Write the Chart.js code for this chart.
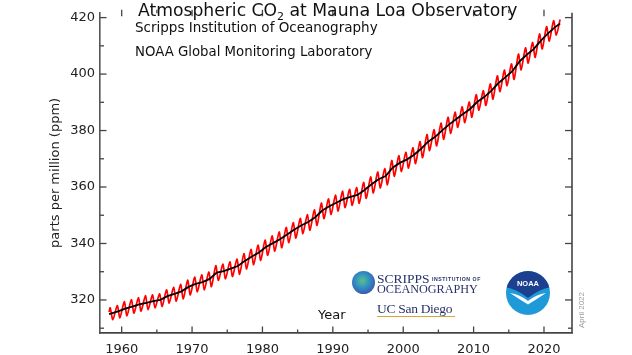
<!DOCTYPE html>
<html><head><meta charset="utf-8">
<script src="https://cdn.jsdelivr.net/npm/chart.js@4.4.1/dist/chart.umd.min.js"></script>
<style>
html,body{margin:0;padding:0;background:#fff;overflow:hidden}
#wrap{position:relative;width:632px;height:355px}
canvas{display:block}
.t{position:absolute;white-space:nowrap;color:#111;font-family:"DejaVu Sans",sans-serif}
.serif{position:absolute;white-space:nowrap;font-family:"Liberation Serif",serif;color:#27336a}
</style></head><body><div id="wrap">
<canvas id="c" width="632" height="355"></canvas>
<div class="t" style="left:138px;top:2px;font-size:17.2px;line-height:17.2px">Atmospheric CO<sub style="font-size:11px;vertical-align:-4px;line-height:0">2</sub> at Mauna Loa Observatory</div>
<div class="t" style="left:135px;top:20.5px;font-size:13.5px;line-height:13.5px">Scripps Institution of Oceanography</div>
<div class="t" style="left:135px;top:44.5px;font-size:13.3px;line-height:13.3px">NOAA Global Monitoring Laboratory</div>
<div class="t" style="left:318px;top:308px;font-size:13px;line-height:13px">Year</div>
<div class="t" style="left:561.5px;top:305px;width:40px;text-align:center;font-family:'Liberation Sans',sans-serif;font-size:8px;line-height:10px;color:#9a9a9a;transform:rotate(-90deg)">April 2022</div>
<div style="position:absolute;left:352px;top:271px;width:23px;height:23px;border-radius:50%;background:radial-gradient(circle at 45% 42%,#5cc08a 0%,#2f8fc4 40%,#3b5fb0 70%,#6a3f9c 100%)"></div>
<div class="serif" style="left:377px;top:271.5px;font-size:13.5px;line-height:13.5px">SCRIPPS</div>
<div class="serif" style="left:432px;top:276.5px;font-size:5.2px;line-height:5.2px;font-family:'Liberation Sans',sans-serif;font-weight:bold;letter-spacing:0.55px">INSTITUTION OF</div>
<div class="serif" style="left:377px;top:283px;font-size:12.2px;line-height:12.2px">OCEANOGRAPHY</div>
<div class="serif" style="left:377px;top:302px;font-size:13.5px;line-height:13.5px;letter-spacing:-0.3px">UC San Diego</div>
<div style="position:absolute;left:377px;top:316px;width:78px;height:1px;background:#d6a734"></div>
<svg style="position:absolute;left:505px;top:270px" width="46" height="46" viewBox="0 0 46 46">
<defs><clipPath id="cc"><circle cx="23" cy="23" r="22"/></clipPath></defs>
<circle cx="23" cy="23" r="22" fill="#1f9ad8"/>
<path clip-path="url(#cc)" d="M0,0 H46 V17 Q34,19 23,28 Q12,19 0,17 Z" fill="#1c3f8f"/>
<path d="M5,23 Q15,24.5 23,31 Q31,24.5 41,23 Q32,29 23,34.5 Q14,29 5,23 Z" fill="#fff"/>
<text x="23" y="15.5" text-anchor="middle" font-family="Liberation Sans, sans-serif" font-weight="bold" font-size="7.5" fill="#fff">NOAA</text>
</svg>
</div>
<script>
const years=[1958,1959,1960,1961,1962,1963,1964,1965,1966,1967,1968,1969,1970,1971,1972,1973,1974,1975,1976,1977,1978,1979,1980,1981,1982,1983,1984,1985,1986,1987,1988,1989,1990,1991,1992,1993,1994,1995,1996,1997,1998,1999,2000,2001,2002,2003,2004,2005,2006,2007,2008,2009,2010,2011,2012,2013,2014,2015,2016,2017,2018,2019,2020,2021];
const annualMean=[315.2,315.98,316.91,317.64,318.45,318.99,319.62,320.04,321.37,322.18,323.05,324.62,325.68,326.32,327.46,329.68,330.19,331.13,332.03,333.84,335.41,336.84,338.76,340.12,341.48,343.15,344.87,346.35,347.61,349.31,351.69,353.20,354.45,355.70,356.54,357.21,358.96,360.97,362.74,363.88,366.84,368.54,369.71,371.32,373.45,375.98,377.70,379.98,382.09,384.02,385.83,387.64,390.10,391.85,394.06,396.74,398.81,401.01,404.41,406.76,408.72,411.66,414.24,416.45];
const mayPeak=[317.2,318.0,319.4,320.1,320.8,321.5,321.8,322.2,323.6,324.5,325.5,327.0,328.1,328.9,329.9,332.2,332.7,333.5,334.5,336.4,337.9,339.4,341.2,342.7,344.1,345.7,347.4,348.9,350.2,351.9,354.3,355.8,357.1,358.5,359.2,359.8,361.6,363.6,365.3,366.5,369.4,371.1,372.3,373.9,376.1,378.6,380.3,382.6,384.7,386.5,388.4,390.1,392.7,394.1,396.5,399.4,401.4,403.6,407.1,409.3,411.2,414.2,416.8,418.9];
const autumnLow=[313.0,313.7,314.4,315.3,316.0,316.5,317.2,317.7,318.9,319.6,320.4,321.8,322.9,323.6,324.7,326.9,327.5,328.3,329.1,331.0,332.5,334.0,335.8,337.3,338.5,340.3,341.9,343.5,344.7,346.4,348.8,350.3,351.5,352.7,353.5,354.2,356.0,357.9,359.7,360.8,363.8,365.5,366.7,368.3,370.4,372.9,374.6,376.9,379.0,381.1,382.8,384.7,387.2,388.9,391.1,393.8,395.9,398.1,401.5,403.9,405.9,408.9,411.7,413.8];
const firstMonth={date:1958.21,co2:315.7};
const lastMonth={date:2022.29,co2:419.3};
const trendStart={date:1958.21,co2:315.0};
const trendEnd={date:2022.29,co2:417.9};
const xTickLabels=[1960,1970,1980,1990,2000,2010,2020];
const xMinorTicks=[1965,1975,1985,1995,2005,2015];
const yTickLabels=[320,340,360,380,400,420];
const yMinorTicks=[310,330,350,370,390,410];

const redPoints=[{x:firstMonth.date,y:firstMonth.co2}];
years.forEach((yr,i)=>{redPoints.push({x:yr+0.37,y:mayPeak[i]});redPoints.push({x:yr+0.75,y:autumnLow[i]});});
redPoints.push({x:lastMonth.date,y:lastMonth.co2});
const blackPoints=[{x:trendStart.date,y:trendStart.co2}];
years.forEach((yr,i)=>{if(i>0)blackPoints.push({x:yr+0.5,y:annualMean[i]});});
blackPoints.push({x:trendEnd.date,y:trendEnd.co2});

const frame={id:'frame',afterDatasetsDraw(c){
  const {ctx,chartArea:a,scales:{x,y}}=c;
  ctx.save();ctx.strokeStyle='#444';
  const ln=(x1,y1,x2,y2)=>{ctx.beginPath();ctx.moveTo(x1,y1);ctx.lineTo(x2,y2);ctx.stroke();};
  ctx.lineWidth=1.6;ln(a.right,a.top,a.right,a.bottom);
  ctx.lineWidth=1.3;
  const top=a.top-3;
  xTickLabels.forEach(v=>{const p=x.getPixelForValue(v);ln(p,a.bottom,p,a.bottom-6.5);ln(p,top,p,top+6.5);});
  xMinorTicks.forEach(v=>{const p=x.getPixelForValue(v);ln(p,a.bottom,p,a.bottom-3.5);ln(p,top,p,top+3.5);});
  yTickLabels.forEach(v=>{const p=y.getPixelForValue(v);ln(a.left,p,a.left+6.5,p);ln(a.right,p,a.right-7,p);});
  yMinorTicks.forEach(v=>{const p=y.getPixelForValue(v);ln(a.left,p,a.left+4,p);ln(a.right,p,a.right-4,p);});
  ctx.restore();
}};

new Chart(document.getElementById('c'),{
  type:'line',
  data:{datasets:[
    {data:blackPoints,borderColor:'#000',borderWidth:1.8,pointRadius:0,tension:0,order:0},
    {data:redPoints,borderColor:'#ff0000',borderWidth:1.7,pointRadius:0,tension:0.25,order:1}
  ]},
  options:{
    responsive:false,animation:false,
    layout:{padding:{left:0,right:60,top:0,bottom:0}},
    plugins:{legend:{display:false},tooltip:{enabled:false}},
    scales:{
      x:{type:'linear',min:1956.92,max:2023.98,
        afterBuildTicks:s=>{s.ticks=xTickLabels.map(v=>({value:v}));},
        afterFit:s=>{s.height=22;},
        grid:{display:false,drawTicks:false},
        border:{display:true,color:'#444',width:1.8},
        ticks:{padding:9,color:'#222',font:{family:'DejaVu Sans',size:13},maxRotation:0,autoSkip:false,callback:v=>String(v)}},
      y:{type:'linear',min:308.3,max:421.7,
        afterBuildTicks:s=>{s.ticks=yTickLabels.map(v=>({value:v}));},
        afterFit:s=>{s.width=100;},
        grid:{display:false,drawTicks:false},
        border:{display:true,color:'#555',width:1.6},
        title:{display:true,text:'parts per million (ppm)',color:'#222',font:{family:'DejaVu Sans',size:13},padding:{top:48,bottom:0}},
        ticks:{padding:5,color:'#222',font:{family:'DejaVu Sans',size:13},autoSkip:false,callback:v=>String(v)}}
    }
  },
  plugins:[frame]
});
</script></body></html>
